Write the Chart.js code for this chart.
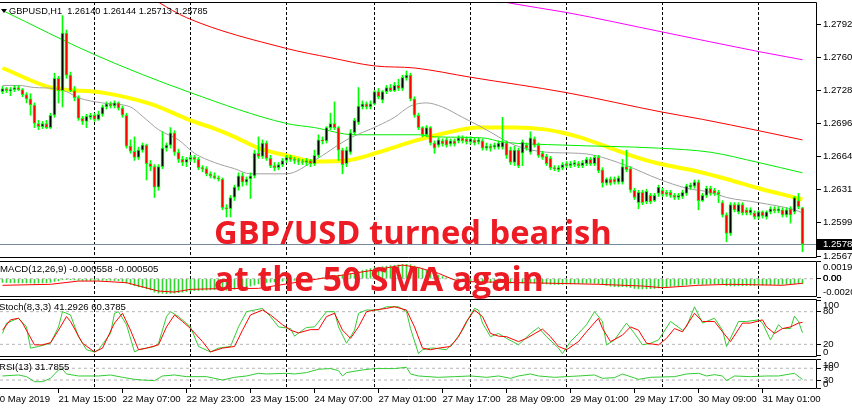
<!DOCTYPE html>
<html>
<head>
<meta charset="utf-8">
<script src="https://cdn.jsdelivr.net/npm/chart.js@4.4.1/dist/chart.umd.min.js"></script>
<style>
  body { margin: 0; background: #fff; width: 852px; height: 410px; overflow: hidden; position: relative; }
  canvas { position: absolute; left: 0; }
  .lbl { position: absolute; font: 9.6px "Liberation Sans", Arial, sans-serif; color: #000; line-height: 12px; white-space: nowrap; z-index: 5; }
  .note { position: absolute; left: 214px; font-family: "Open Sans", sans-serif; font-weight: 700; color: #ed1c24; white-space: nowrap; z-index: 6; }
  .tri { position: absolute; left: 1px; top: 9px; width: 0; height: 0; border-left: 3px solid transparent; border-right: 3px solid transparent; border-top: 4px solid #000; z-index: 5; }
</style>
</head>
<body>
<canvas id="main" width="852" height="260" style="top:0"></canvas>
<canvas id="macd" width="852" height="40" style="top:259px"></canvas>
<canvas id="stoch" width="852" height="62" style="top:297px"></canvas>
<canvas id="rsi" width="852" height="53" style="top:357px"></canvas>

<div class="tri"></div>
<div class="lbl" style="left:9px;top:5px;font-size:9.2px">GBPUSD,H1&nbsp; 1.26140 1.26144 1.25713 1.25785</div>
<div class="lbl" style="left:0;top:263px">MACD(12,26,9) -0.000558 -0.000505</div>
<div class="lbl" style="left:-1px;top:301px">Stoch(8,3,3) 41.2926 60.3785</div>
<div class="lbl" style="left:-1px;top:361px">RSI(13) 31.7855</div>
<div class="note" style="top:215px;font-size:32.7px;line-height:33px">GBP/USD turned bearish</div>
<div class="note" style="top:261px;font-size:33.6px;line-height:34px">at the 50 SMA again</div>

<script>
// GBPUSD H1, bars from 21 May 01:00 to 31 May 11:00
const openP = [
  1.2727,1.2730,1.2728,1.2729,1.2731,1.2729,1.2724,1.2720,1.2714,1.2696,
  1.2693,1.2696,1.2692,1.2704,1.2740,1.2728,1.2784,1.2743,1.2728,1.2721,
  1.2701,1.2698,1.2702,1.2704,1.2700,1.2705,1.2712,1.2715,1.2713,1.2716,
  1.2711,1.2704,1.2674,1.2669,1.2663,1.2670,1.2675,1.2657,1.2654,1.2634,
  1.2654,1.2672,1.2675,1.2687,1.2668,1.2661,1.2658,1.2661,1.2663,1.2661,
  1.2653,1.2652,1.2647,1.2645,1.2643,1.2642,1.2614,1.2613,1.2624,1.2634,
  1.2645,1.2639,1.2642,1.2645,1.2667,1.2664,1.2677,1.2662,1.2655,1.2653,
  1.2656,1.2660,1.2663,1.2661,1.2660,1.2659,1.2658,1.2660,1.2657,1.2665,
  1.2680,1.2679,1.2692,1.2696,1.2692,1.2670,1.2657,1.2668,1.2687,1.2697,
  1.2712,1.2715,1.2712,1.2715,1.2727,1.2719,1.2727,1.2731,1.2728,1.2733,
  1.2730,1.2740,1.2743,1.2720,1.2704,1.2692,1.2685,1.2692,1.2677,1.2675,
  1.2679,1.2680,1.2676,1.2679,1.2679,1.2682,1.2681,1.2678,1.2680,1.2678,
  1.2679,1.2672,1.2674,1.2673,1.2673,1.2673,1.2677,1.2670,1.2658,1.2670,
  1.2667,1.2675,1.2668,1.2681,1.2675,1.2667,1.2664,1.2662,1.2653,1.2651,
  1.2653,1.2657,1.2655,1.2656,1.2657,1.2655,1.2657,1.2661,1.2657,1.2663,
  1.2651,1.2638,1.2642,1.2642,1.2639,1.2639,1.2654,1.2652,1.2631,1.2619,
  1.2629,1.2620,1.2626,1.2621,1.2628,1.2631,1.2629,1.2629,1.2626,1.2624,
  1.2625,1.2628,1.2634,1.2635,1.2639,1.2621,1.2626,1.2633,1.2631,1.2629,
  1.2619,1.2607,1.2589,1.2617,1.2610,1.2617,1.2612,1.2609,1.2609,1.2605,
  1.2610,1.2605,1.2610,1.2613,1.2611,1.2612,1.2607,1.2613,1.2610,1.2621,
  1.26140
];
const highP = [
  1.2732,1.2731,1.2731,1.2733,1.2733,1.2730,1.2726,1.2725,1.2716,1.2699,
  1.2698,1.2699,1.2706,1.2745,1.2742,1.2801,1.2787,1.2746,1.2732,1.2723,
  1.2703,1.2705,1.2706,1.2706,1.2708,1.2714,1.2717,1.2717,1.2718,1.2717,
  1.2713,1.2706,1.2680,1.2683,1.2673,1.2677,1.2676,1.2660,1.2656,1.2656,
  1.2688,1.2677,1.2692,1.2689,1.2671,1.2664,1.2663,1.2665,1.2665,1.2663,
  1.2655,1.2654,1.2649,1.2648,1.2645,1.2643,1.2617,1.2626,1.2636,1.2648,
  1.2648,1.2644,1.2648,1.2670,1.2683,1.2680,1.2679,1.2665,1.2658,1.2658,
  1.2662,1.2665,1.2665,1.2663,1.2662,1.2661,1.2662,1.2661,1.2670,1.2685,
  1.2683,1.2693,1.2706,1.2717,1.2693,1.2672,1.2673,1.2690,1.2701,1.2731,
  1.2718,1.2717,1.2718,1.2728,1.2730,1.2728,1.2733,1.2734,1.2736,1.2739,
  1.2743,1.2747,1.2745,1.2722,1.2706,1.2693,1.2694,1.2693,1.2679,1.2682,
  1.2681,1.2682,1.2681,1.2681,1.2684,1.2684,1.2683,1.2683,1.2682,1.2682,
  1.2681,1.2677,1.2676,1.2677,1.2679,1.2702,1.2679,1.2673,1.2674,1.2672,
  1.2680,1.2677,1.2688,1.2683,1.2677,1.2669,1.2666,1.2664,1.2655,1.2655,
  1.2658,1.2659,1.2659,1.2660,1.2659,1.2660,1.2663,1.2663,1.2665,1.2665,
  1.2653,1.2643,1.2644,1.2644,1.2645,1.2661,1.2670,1.2654,1.2633,1.2631,
  1.2631,1.2632,1.2628,1.2628,1.2636,1.2633,1.2631,1.2631,1.2628,1.2628,
  1.2631,1.2637,1.2638,1.2641,1.2641,1.2628,1.2635,1.2635,1.2633,1.2631,
  1.2621,1.2609,1.2619,1.2619,1.2619,1.2619,1.2614,1.2614,1.2611,1.2611,
  1.2611,1.2611,1.2615,1.2615,1.2615,1.2614,1.2614,1.2615,1.2625,1.2628,
  1.26144
];
const lowP = [
  1.2725,1.2726,1.2723,1.2727,1.2728,1.2722,1.2716,1.2704,1.2692,1.2690,
  1.2691,1.2691,1.2691,1.2702,1.2716,1.2712,1.2740,1.2727,1.2718,1.2699,
  1.2695,1.2692,1.2700,1.2698,1.2699,1.2703,1.2710,1.2711,1.2711,1.2709,
  1.2702,1.2672,1.2667,1.2660,1.2661,1.2668,1.2641,1.2650,1.2624,1.2631,
  1.2652,1.2669,1.2672,1.2665,1.2658,1.2655,1.2654,1.2659,1.2658,1.2651,
  1.2649,1.2645,1.2643,1.2642,1.2640,1.2612,1.2605,1.2605,1.2621,1.2631,
  1.2635,1.2636,1.2623,1.2643,1.2662,1.2662,1.2660,1.2653,1.2650,1.2651,
  1.2654,1.2658,1.2659,1.2657,1.2656,1.2656,1.2655,1.2654,1.2655,1.2663,
  1.2676,1.2677,1.2690,1.2690,1.2660,1.2647,1.2654,1.2666,1.2685,1.2695,
  1.2710,1.2710,1.2710,1.2714,1.2720,1.2716,1.2725,1.2727,1.2727,1.2728,
  1.2728,1.2738,1.2718,1.2702,1.2690,1.2683,1.2683,1.2675,1.2667,1.2673,
  1.2674,1.2673,1.2674,1.2674,1.2677,1.2677,1.2676,1.2676,1.2675,1.2676,
  1.2670,1.2670,1.2669,1.2671,1.2671,1.2671,1.2662,1.2656,1.2655,1.2653,
  1.2655,1.2670,1.2666,1.2673,1.2663,1.2661,1.2655,1.2651,1.2650,1.2649,
  1.2651,1.2653,1.2653,1.2654,1.2653,1.2653,1.2655,1.2655,1.2655,1.2648,
  1.2634,1.2636,1.2636,1.2637,1.2637,1.2637,1.2649,1.2629,1.2622,1.2613,
  1.2617,1.2618,1.2618,1.2620,1.2625,1.2625,1.2625,1.2624,1.2622,1.2622,
  1.2623,1.2626,1.2632,1.2633,1.2612,1.2620,1.2624,1.2626,1.2626,1.2619,
  1.2605,1.2581,1.2587,1.2610,1.2608,1.2607,1.2607,1.2607,1.2603,1.2603,
  1.2604,1.2603,1.2608,1.2609,1.2609,1.2605,1.2605,1.2599,1.2608,1.2613,
  1.25713
];
const closeP = [
  1.2730,1.2728,1.2729,1.2731,1.2729,1.2724,1.2720,1.2714,1.2696,1.2693,
  1.2696,1.2692,1.2704,1.2740,1.2728,1.2784,1.2743,1.2728,1.2721,1.2701,
  1.2698,1.2703,1.2704,1.2700,1.2705,1.2712,1.2715,1.2713,1.2716,1.2711,
  1.2704,1.2674,1.2669,1.2663,1.2670,1.2675,1.2657,1.2654,1.2634,1.2654,
  1.2672,1.2675,1.2687,1.2668,1.2661,1.2658,1.2661,1.2663,1.2661,1.2653,
  1.2652,1.2647,1.2645,1.2643,1.2642,1.2614,1.2613,1.2624,1.2634,1.2645,
  1.2639,1.2642,1.2645,1.2667,1.2664,1.2677,1.2662,1.2655,1.2653,1.2656,
  1.2660,1.2663,1.2661,1.2660,1.2659,1.2658,1.2660,1.2657,1.2665,1.2680,
  1.2679,1.2692,1.2696,1.2692,1.2670,1.2656,1.2670,1.2687,1.2699,1.2713,
  1.2715,1.2712,1.2715,1.2727,1.2722,1.2727,1.2731,1.2728,1.2733,1.2730,
  1.2741,1.2743,1.2720,1.2704,1.2692,1.2685,1.2692,1.2677,1.2672,1.2680,
  1.2676,1.2675,1.2679,1.2676,1.2682,1.2679,1.2678,1.2681,1.2677,1.2680,
  1.2672,1.2674,1.2672,1.2675,1.2677,1.2678,1.2665,1.2658,1.2670,1.2655,
  1.2678,1.2672,1.2682,1.2675,1.2665,1.2663,1.2657,1.2653,1.2652,1.2653,
  1.2656,1.2655,1.2657,1.2658,1.2655,1.2658,1.2661,1.2657,1.2663,1.2650,
  1.2638,1.2642,1.2638,1.2639,1.2643,1.2654,1.2651,1.2631,1.2624,1.2629,
  1.2619,1.2630,1.2620,1.2626,1.2634,1.2627,1.2627,1.2626,1.2624,1.2626,
  1.2629,1.2635,1.2636,1.2639,1.2621,1.2626,1.2633,1.2628,1.2628,1.2627,
  1.2607,1.2589,1.2617,1.2612,1.2617,1.2609,1.2609,1.2612,1.2605,1.2610,
  1.2606,1.2610,1.2613,1.2611,1.2613,1.2607,1.2612,1.2607,1.2624,1.2615,
  1.25785
];

// moving averages, read as [bar, price]
const sma50 = [[0,1.2750],[12,1.2731],[25,1.2726],[37,1.2715],[47,1.2699],[53,1.2691],[58,1.2683],[64,1.2672],[72,1.2664],[78,1.2659],[86,1.2660],[94,1.2668],[103,1.2679],[111,1.2687],[119,1.2692],[128,1.2692],[136,1.2690],[140,1.2687],[144,1.2683],[150,1.2675],[157,1.2665],[164,1.2657],[173,1.2650],[181,1.2642],[189,1.2633],[198,1.2624],[200,1.2622]];
const sma20 = [[0,1.2733],[4,1.2733],[8,1.2731],[13,1.2730],[16,1.2727],[19,1.2721],[25,1.2716],[32,1.2712],[35,1.2703],[39,1.2690],[44,1.2680],[48,1.2667],[53,1.2658],[58,1.2652],[62,1.2647],[71,1.2647],[78,1.2660],[86,1.2680],[94,1.2694],[98,1.2702],[102,1.2713],[106,1.2716],[110,1.2712],[115,1.2702],[120,1.2692],[128,1.2675],[136,1.2668],[144,1.2667],[148,1.2665],[156,1.2655],[164,1.2642],[171,1.2633],[177,1.2629],[181,1.2624],[189,1.2619],[198,1.2612],[200,1.2609]];
const sma100 = [[0,1.2806],[23,1.2763],[47,1.2726],[71,1.2696],[78,1.2692],[88,1.2685],[104,1.2685],[108,1.2683],[120,1.2682],[125,1.2678],[140,1.2675],[164,1.2672],[177,1.2668],[189,1.2658],[200,1.2648]];
const sma200 = [[37,1.2819],[39,1.2814],[46,1.2799],[71,1.2769],[82,1.2760],[93,1.2752],[103,1.2750],[117,1.2741],[141,1.2726],[165,1.2707],[175,1.2700],[189,1.2689],[200,1.2680]];
const sma500 = [[122,1.2817],[127,1.2813],[141,1.2804],[165,1.2785],[189,1.2766],[200,1.2758]];

const macdHist = [
  -0.00040,-0.00042,-0.00043,-0.00045,-0.00046,-0.00046,-0.00047,-0.00048,-0.00050,-0.00048,
  -0.00046,-0.00044,-0.00040,-0.00030,-0.00024,-0.00012,-0.00010,-0.00012,-0.00014,-0.00018,
  -0.00020,-0.00021,-0.00020,-0.00020,-0.00019,-0.00018,-0.00017,-0.00018,-0.00020,-0.00022,
  -0.00030,-0.00048,-0.00062,-0.00078,-0.00090,-0.00098,-0.00112,-0.00125,-0.00148,-0.00160,
  -0.00162,-0.00165,-0.00162,-0.00160,-0.00155,-0.00150,-0.00143,-0.00138,-0.00132,-0.00130,
  -0.00128,-0.00126,-0.00124,-0.00122,-0.00120,-0.00125,-0.00128,-0.00124,-0.00116,-0.00104,
  -0.00095,-0.00088,-0.00082,-0.00070,-0.00058,-0.00048,-0.00042,-0.00038,-0.00035,-0.00032,
  -0.00028,-0.00024,-0.00020,-0.00018,-0.00016,-0.00014,-0.00012,-0.00010,-0.00005,0.00003,
  0.00010,0.00022,0.00032,0.00038,0.00040,0.00038,0.00042,0.00052,0.00065,0.00080,
  0.00092,0.00102,0.00112,0.00122,0.00128,0.00134,0.00140,0.00145,0.00150,0.00154,
  0.00158,0.00160,0.00156,0.00142,0.00125,0.00110,0.00095,0.00078,0.00058,0.00040,
  0.00025,0.00012,0.00002,-0.00008,-0.00015,-0.00020,-0.00025,-0.00030,-0.00032,-0.00036,
  -0.00040,-0.00042,-0.00044,-0.00045,-0.00045,-0.00044,-0.00046,-0.00050,-0.00050,-0.00052,
  -0.00050,-0.00048,-0.00046,-0.00048,-0.00052,-0.00055,-0.00058,-0.00062,-0.00064,-0.00064,
  -0.00062,-0.00060,-0.00058,-0.00056,-0.00055,-0.00054,-0.00052,-0.00050,-0.00050,-0.00055,
  -0.00066,-0.00075,-0.00082,-0.00088,-0.00090,-0.00088,-0.00090,-0.00098,-0.00108,-0.00112,
  -0.00115,-0.00112,-0.00110,-0.00108,-0.00102,-0.00096,-0.00090,-0.00085,-0.00080,-0.00078,
  -0.00074,-0.00068,-0.00062,-0.00056,-0.00060,-0.00064,-0.00062,-0.00060,-0.00060,-0.00060,
  -0.00066,-0.00078,-0.00080,-0.00080,-0.00078,-0.00078,-0.00076,-0.00074,-0.00074,-0.00072,
  -0.00070,-0.00068,-0.00066,-0.00064,-0.00062,-0.00062,-0.00060,-0.00060,-0.00052,-0.00048,
  -0.000558
];
const macdSignal = [[0,-0.00073],[12,-0.00062],[19,-0.00026],[24,-0.00026],[31,-0.00044],[39,-0.00137],[43,-0.00148],[47,-0.00118],[53,-0.00111],[64,-0.00107],[93,0.00097],[100,0.00152],[104,0.00124],[109,0.0006],[113,-0.00014],[117,-0.00033],[138,-0.00051],[149,-0.00062],[160,-0.00081],[165,-0.001],[174,-0.00073],[182,-0.00062],[195,-0.00073],[200,-0.000505]];

const stochK = [[0,40],[1,59],[3,65],[4,68],[6,52],[7,13],[9,16],[12,22],[14,52],[15,80],[17,74],[19,34],[21,10],[23,6],[24,10],[27,40],[28,77],[29,80],[31,56],[33,6],[34,10],[38,16],[39,22],[41,71],[42,80],[44,71],[47,52],[49,16],[52,6],[54,13],[57,16],[59,52],[61,80],[63,83],[65,86],[67,71],[69,52],[72,49],[73,35],[75,46],[76,51],[78,52],[81,80],[83,80],[84,52],[86,22],[88,46],[89,77],[91,83],[94,83],[96,89],[99,89],[101,80],[102,49],[104,3],[105,10],[107,13],[108,13],[111,10],[113,25],[115,46],[117,74],[118,86],[119,83],[120,59],[122,34],[124,40],[126,31],[129,19],[132,40],[134,51],[136,34],[139,13],[140,3],[142,25],[144,40],[146,56],[148,80],[150,62],[151,19],[153,28],[155,49],[156,59],[158,40],[160,19],[162,22],[164,28],[167,62],[170,46],[171,52],[173,89],[175,59],[178,68],[180,46],[181,16],[184,62],[186,62],[189,65],[190,59],[192,28],[194,56],[195,49],[197,49],[198,72],[199,62],[200,41.29]];
const stochD = [[0,46],[2,65],[4,68],[5,59],[8,19],[10,19],[12,23],[14,46],[16,71],[17,62],[20,22],[23,6],[25,13],[28,59],[30,77],[32,46],[34,10],[36,13],[39,19],[41,52],[43,74],[45,62],[47,49],[50,25],[52,6],[55,13],[58,16],[60,46],[62,74],[65,83],[67,74],[70,56],[72,46],[74,41],[77,47],[79,47],[81,71],[83,77],[85,46],[87,31],[89,52],[91,80],[93,83],[96,86],[98,89],[101,83],[103,52],[105,13],[107,10],[109,13],[112,16],[114,34],[116,62],[118,83],[120,71],[122,40],[124,35],[126,34],[129,25],[131,31],[135,48],[137,34],[139,16],[141,10],[144,25],[146,43],[149,68],[150,49],[152,25],[155,37],[157,52],[159,46],[161,22],[164,19],[166,31],[168,49],[170,43],[173,77],[175,62],[178,62],[180,43],[182,25],[185,59],[187,59],[190,65],[191,52],[193,40],[195,49],[197,52],[199,59],[200,60.38]];
const rsi13 = [[0,43.8],[4,47.2],[6,41.5],[8,24.4],[10,24.4],[12,35.8],[14,64.3],[15,66.6],[16,50.6],[19,43.8],[24,43.8],[27,47.2],[30,39.2],[33,32.4],[35,30.1],[38,27.8],[40,43.8],[43,47.2],[46,41.5],[51,41.5],[55,30.1],[58,39.2],[61,43.8],[64,52.9],[66,50.6],[71,52.9],[73,50.6],[76,55.2],[79,66.6],[82,68.9],[84,62],[85,43.8],[86,55.2],[90,64.3],[93,68.9],[98,68.9],[101,73.4],[102,50.6],[104,43.8],[109,39.2],[113,41.5],[117,43.8],[121,39.2],[124,43.8],[127,35.8],[129,43.8],[132,50.6],[134,43.8],[138,39.2],[141,41.5],[144,43.8],[148,47.2],[150,35.8],[153,38.1],[155,50.6],[159,32.4],[162,39.2],[168,41.5],[171,50.6],[174,52.9],[176,43.8],[178,48.3],[180,43.8],[181,27.8],[183,43.8],[187,41.5],[191,43.8],[194,43.8],[198,52.9],[200,31.79]];

const priceTicks = [1.27925, 1.27605, 1.27285, 1.2696, 1.2664, 1.26315, 1.25995, 1.2567];
const daySeparators = [23, 47, 71, 93, 117, 141, 165, 189];
const timeLabelBars = [-2, 14, 30, 46, 62, 78, 94, 110, 126, 142, 158, 174, 190];
const timeLabels = ['20 May 2019', '21 May 15:00', '22 May 07:00', '22 May 23:00', '23 May 15:00', '24 May 07:00', '27 May 01:00', '27 May 17:00', '28 May 09:00', '29 May 01:00', '29 May 17:00', '30 May 09:00', '31 May 01:00'];

const X_MIN = -0.625, X_MAX = 203.625;
const FONT = '9.6px "Liberation Sans", Arial, sans-serif';
Chart.defaults.font.family = '"Liberation Sans", Arial, sans-serif';
Chart.defaults.font.size = 9.6;
Chart.defaults.color = '#000';

const bars = closeP.map((c, i) => i);
const pts = arr => arr.map(([x, y]) => ({ x, y }));
const flat = v => [{ x: X_MIN, y: v }, { x: X_MAX, y: v }];

function plainX() {
  return {
    type: 'linear', min: X_MIN, max: X_MAX, offset: false,
    grid: { display: false, offset: false }, border: { display: false },
    ticks: { display: false },
    afterFit: s => { s.height = 0; s.paddingLeft = 0; s.paddingRight = 0; }
  };
}
function rightY(min, max, tickVals, showLabels) {
  return {
    type: 'linear', position: 'right', min, max, beginAtZero: false,
    grid: { drawOnChartArea: false, drawTicks: true, tickLength: 4, tickColor: '#000' },
    border: { display: false },
    ticks: { display: showLabels, padding: 2, font: { size: 9.6 }, callback: v => v.toFixed(5) },
    afterBuildTicks: s => { s.ticks = tickVals.map(v => ({ value: v })); },
    afterFit: s => { s.width = 35; s.paddingTop = 0; s.paddingBottom = 0; }
  };
}

// dashed day separators placed by the x scale
const daySep = {
  id: 'daySep',
  beforeDatasetsDraw(chart) {
    const a = chart.chartArea, ctx = chart.ctx, xs = chart.scales.x;
    ctx.save();
    ctx.strokeStyle = '#000'; ctx.lineWidth = 1; ctx.setLineDash([3, 2]);
    daySeparators.forEach(v => {
      const x = Math.round(xs.getPixelForValue(v) - 0.5) + 0.5;
      ctx.beginPath(); ctx.moveTo(x, a.top); ctx.lineTo(x, a.bottom); ctx.stroke();
    });
    ctx.restore();
  }
};
// black frame on top, right and bottom of each panel
const frame = {
  id: 'frame',
  afterDraw(chart) {
    const a = chart.chartArea, ctx = chart.ctx;
    ctx.save();
    ctx.strokeStyle = '#000'; ctx.lineWidth = 1;
    ctx.beginPath();
    ctx.moveTo(a.left, a.top + 0.5); ctx.lineTo(a.right - 0.5, a.top + 0.5);
    ctx.lineTo(a.right - 0.5, a.bottom - 0.5); ctx.lineTo(a.left, a.bottom - 0.5);
    ctx.stroke();
    ctx.restore();
  }
};
// MT4 style value labels kept inside the panel
const sideLabels = {
  id: 'sideLabels',
  afterDraw(chart, args, opts) {
    if (!opts.values) return;
    const s = chart.scales.y, a = chart.chartArea, ctx = chart.ctx;
    ctx.save();
    ctx.font = FONT; ctx.fillStyle = '#000'; ctx.textAlign = 'left'; ctx.textBaseline = 'middle';
    opts.values.forEach((v, k) => {
      let y = s.getPixelForValue(v);
      y = Math.min(Math.max(y, a.top + 6), a.bottom - 5);
      ctx.fillText(opts.labels[k], a.right + 6, y);
    });
    ctx.restore();
  }
};
// last price line and tag
const priceTag = {
  id: 'priceTag',
  beforeDatasetsDraw(chart) {
    const y = Math.round(chart.scales.y.getPixelForValue(closeP[closeP.length - 1])) + 0.5;
    const a = chart.chartArea, ctx = chart.ctx;
    ctx.save();
    ctx.strokeStyle = '#778899'; ctx.lineWidth = 1;
    ctx.beginPath(); ctx.moveTo(a.left, y); ctx.lineTo(a.right, y); ctx.stroke();
    ctx.restore();
  },
  afterDraw(chart) {
    const last = closeP[closeP.length - 1];
    const y = Math.round(chart.scales.y.getPixelForValue(last));
    const a = chart.chartArea, ctx = chart.ctx;
    ctx.save();
    ctx.fillStyle = '#000';
    ctx.fillRect(a.right, y - 5, 852 - a.right, 11);
    ctx.fillStyle = '#fff'; ctx.font = FONT; ctx.textBaseline = 'middle'; ctx.textAlign = 'left';
    ctx.fillText(last.toFixed(5), a.right + 6, y + 0.5);
    ctx.restore();
  }
};

const base = {
  responsive: false, animation: false, devicePixelRatio: 1, events: [],
  plugins: { legend: { display: false }, tooltip: { enabled: false } }
};
const lineDs = (data, color, width, extra) => Object.assign({
  type: 'line', data, borderColor: color, borderWidth: width, pointRadius: 0, fill: false
}, extra || {});

// main price panel
new Chart(document.getElementById('main'), {
  type: 'bar',
  data: {
    datasets: [
      { type: 'bar', data: bars.map(i => ({ x: i, y: [openP[i], closeP[i]] })),
        backgroundColor: bars.map(i => closeP[i] >= openP[i] ? '#000000' : '#ff0000'),
        borderColor: '#00ff00', borderWidth: 1, borderSkipped: false, barThickness: 3, grouped: false, minBarLength: 1 },
      { type: 'bar', data: bars.map(i => ({ x: i, y: [lowP[i], highP[i]] })),
        backgroundColor: '#00ff00', borderWidth: 0, barThickness: 1, grouped: false },
      lineDs(pts(sma20), '#a0a0a0', 1, { cubicInterpolationMode: 'monotone' }),
      lineDs(pts(sma100), '#00ee00', 1, { cubicInterpolationMode: 'monotone' }),
      lineDs(pts(sma200), '#ff0000', 1, { cubicInterpolationMode: 'monotone' }),
      lineDs(pts(sma500), '#ff00ff', 1, { cubicInterpolationMode: 'monotone' }),
      lineDs(pts(sma50), '#ffff00', 4, { cubicInterpolationMode: 'monotone' })
    ]
  },
  options: Object.assign({}, base, {
    layout: { padding: { top: 2, bottom: 2, left: 0, right: 0 } },
    scales: { x: plainX(), y: rightY(1.25651, 1.28142, priceTicks, true) }
  }),
  plugins: [daySep, priceTag, frame]
});

// MACD panel
new Chart(document.getElementById('macd'), {
  type: 'bar',
  data: {
    datasets: [
      lineDs(pts(macdSignal), '#ff0000', 1),
      lineDs(flat(0), '#b4b4b4', 1, { borderDash: [3, 3] }),
      { type: 'bar', data: bars.map(i => ({ x: i, y: macdHist[i] })), backgroundColor: '#33d633', barThickness: 1, grouped: false }
    ]
  },
  options: Object.assign({}, base, {
    layout: { padding: { top: 2, bottom: 2, left: 0, right: 0 } },
    scales: { x: plainX(), y: rightY(-0.00203, 0.00197, [0.00197, 0, -0.00203], false) },
    plugins: Object.assign({}, base.plugins, { sideLabels: { values: [0.00197, 0, 0, -0.00203], labels: ['0.00197', '0.00', '0.00', '-0.00203'] } })
  }),
  plugins: [daySep, frame, sideLabels]
});

// Stochastic panel
new Chart(document.getElementById('stoch'), {
  type: 'line',
  data: {
    datasets: [
      lineDs(pts(stochD), '#ff0000', 1),
      lineDs(pts(stochK), '#33cc33', 1),
      lineDs(flat(80), '#b4b4b4', 1, { borderDash: [3, 3] }),
      lineDs(flat(20), '#b4b4b4', 1, { borderDash: [3, 3] })
    ]
  },
  options: Object.assign({}, base, {
    layout: { padding: { top: 2, bottom: 2, left: 0, right: 0 } },
    scales: { x: plainX(), y: rightY(-3.3, 103.3, [100, 80, 20, 0], false) },
    plugins: Object.assign({}, base.plugins, { sideLabels: { values: [100, 80, 20, 0], labels: ['100', '80', '20', '0'] } })
  }),
  plugins: [daySep, frame, sideLabels]
});

// RSI panel with the time axis
const timeAxis = {
  type: 'linear', position: 'bottom', min: X_MIN, max: X_MAX, offset: false,
  grid: { drawOnChartArea: false, drawTicks: true, tickLength: 4, tickColor: '#000', offset: false },
  border: { display: false },
  ticks: { align: 'start', padding: 1, autoSkip: false, maxRotation: 0, font: { size: 9.6 },
           callback: v => timeLabels[timeLabelBars.indexOf(v)] },
  afterBuildTicks: s => { s.ticks = timeLabelBars.map(v => ({ value: v })); },
  afterFit: s => { s.height = 21; s.paddingLeft = 0; s.paddingRight = 0; }
};
new Chart(document.getElementById('rsi'), {
  type: 'line',
  data: {
    datasets: [
      lineDs(pts(rsi13), '#33cc33', 1),
      lineDs(flat(70), '#b4b4b4', 1, { borderDash: [3, 3] }),
      lineDs(flat(30), '#b4b4b4', 1, { borderDash: [3, 3] })
    ]
  },
  options: Object.assign({}, base, {
    layout: { padding: { top: 2, bottom: 0, left: 0, right: 0 } },
    scales: { x: plainX(), xt: timeAxis, y: rightY(-0.5, 101.5, [100, 70, 30, 0], false) },
    plugins: Object.assign({}, base.plugins, { sideLabels: { values: [100, 70, 30, 0], labels: ['100', '70', '30', '0'] } })
  }),
  plugins: [daySep, frame, sideLabels]
});
</script>
</body>
</html>
